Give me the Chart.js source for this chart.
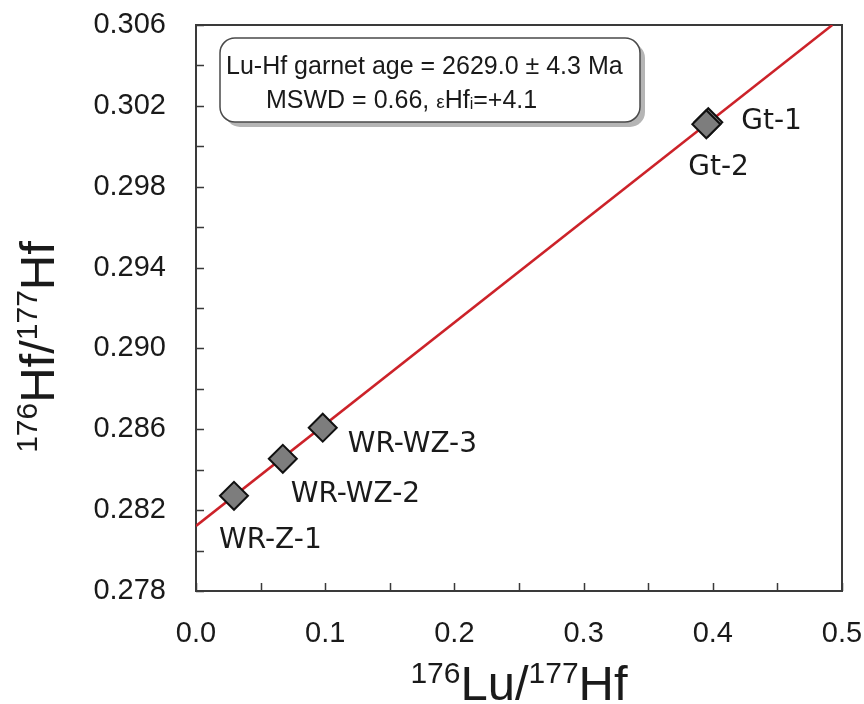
<!DOCTYPE html>
<html lang="en">
<head>
    <meta charset="UTF-8">
    <title>Lu-Hf isochron</title>
    <script src="https://cdn.jsdelivr.net/npm/chart.js"></script>
    <style>
        body { margin: 0; background: #fff; }
        .wrap { width: 864px; height: 704px; position: relative; }
    </style>
</head>
<body>
    <div class="wrap"><canvas id="isochron"></canvas></div>
    <script>
        // sample points
        const sampleNames = ['WR-Z-1', 'WR-WZ-2', 'WR-WZ-3', 'Gt-1', 'Gt-2'];
        const luHf = [0.0294, 0.0672, 0.0981, 0.3965, 0.3950];
        const hfHf = [0.28271, 0.28454, 0.28608, 0.30119, 0.30109];

        // isochron line end points
        const isochronLu = [0.0, 0.4925];
        const isochronHf = [0.28122, 0.306];

        const boxLine1 = 'Lu-Hf garnet age = 2629.0 \u00b1 4.3 Ma';
        const boxLine2 = ['MSWD = 0.66, ', '\u03b5', 'Hf', 'i', '=+4.1'];

        // label placement relative to each point (px)
        const labelOffsets = [[-15, 52], [8, 43], [25, 24], [33, 7], [-18, 51]];

        const axisColor = '#3a3a3a';

        function drawSupText(ctx, parts, x, y) {
            // parts: [text, size, rise]
            let cx = x;
            parts.forEach(p => {
                ctx.font = p[1] + 'px "Liberation Sans", Arial, sans-serif';
                ctx.fillText(p[0], cx, y - p[2]);
                cx += ctx.measureText(p[0]).width;
            });
            return cx - x;
        }

        function measureParts(ctx, parts) {
            let w = 0;
            parts.forEach(p => {
                ctx.font = p[1] + 'px "Liberation Sans", Arial, sans-serif';
                w += ctx.measureText(p[0]).width;
            });
            return w;
        }

        const decorPlugin = {
            id: 'decor',
            beforeDatasetsDraw(chart) {
                const ctx = chart.ctx;
                const a = chart.chartArea;
                const xs = chart.scales.x, ys = chart.scales.y;
                ctx.save();
                ctx.strokeStyle = axisColor;
                ctx.lineWidth = 2;
                ctx.strokeRect(a.left, a.top, a.right - a.left, a.bottom - a.top);
                ctx.lineWidth = 1.5;
                ctx.beginPath();
                ys.ticks.forEach(t => {
                    const py = Math.round(ys.getPixelForValue(t.value)) + 0.5;
                    ctx.moveTo(a.left, py);
                    ctx.lineTo(a.left + 8, py);
                });
                xs.ticks.forEach(t => {
                    const px = Math.round(xs.getPixelForValue(t.value)) + 0.5;
                    ctx.moveTo(px, a.bottom);
                    ctx.lineTo(px, a.bottom - 8);
                });
                ctx.stroke();
                ctx.restore();
            },
            afterDatasetsDraw(chart) {
                const ctx = chart.ctx;
                const xs = chart.scales.x, ys = chart.scales.y;
                ctx.save();
                ctx.fillStyle = '#1a1a1a';
                ctx.font = '28px "DejaVu Sans", Verdana, sans-serif';
                ctx.textBaseline = 'alphabetic';
                sampleNames.forEach((name, i) => {
                    const px = xs.getPixelForValue(luHf[i]);
                    const py = ys.getPixelForValue(hfHf[i]);
                    ctx.fillText(name, px + labelOffsets[i][0], py + labelOffsets[i][1]);
                });
                ctx.restore();
            },
            afterDraw(chart) {
                const ctx = chart.ctx;
                ctx.save();
                // annotation box with shadow
                ctx.fillStyle = '#b5b5b5';
                ctx.beginPath();
                ctx.roundRect(225, 43, 420, 84, 15);
                ctx.fill();
                ctx.fillStyle = '#fff';
                ctx.strokeStyle = '#4a4a4a';
                ctx.lineWidth = 1.5;
                ctx.beginPath();
                ctx.roundRect(220, 38, 420, 84, 15);
                ctx.fill();
                ctx.stroke();

                ctx.fillStyle = '#1a1a1a';
                ctx.textBaseline = 'alphabetic';
                ctx.font = '25px "Liberation Sans", Arial, sans-serif';
                ctx.fillText(boxLine1, 226, 74);
                drawSupText(ctx, [
                    [boxLine2[0], 25, 0], [boxLine2[1], 19, 0], [boxLine2[2], 25, 0],
                    [boxLine2[3], 16, -1], [boxLine2[4], 25, 0]
                ], 266, 108);

                // x axis title
                const xParts = [['176', 30, 17], ['Lu/', 49, 0], ['177', 30, 17], ['Hf', 49, 0]];
                const a = chart.chartArea;
                const xw = measureParts(ctx, xParts);
                drawSupText(ctx, xParts, (a.left + a.right) / 2 - xw / 2, 700);

                // y axis title
                const yParts = [['176', 30, 17], ['Hf/', 49, 0], ['177', 30, 17], ['Hf', 49, 0]];
                const yw = measureParts(ctx, yParts);
                ctx.translate(54, 347);
                ctx.rotate(-Math.PI / 2);
                drawSupText(ctx, yParts, -yw / 2, 0);
                ctx.restore();
            }
        };

        const ctx = document.getElementById('isochron').getContext('2d');
        new Chart(ctx, {
            type: 'scatter',
            data: {
                datasets: [
                    {
                        label: 'samples',
                        data: luHf.map((v, i) => ({ x: v, y: hfHf[i] })),
                        pointStyle: 'rectRot',
                        pointRadius: 14,
                        pointBackgroundColor: '#7d7d7d',
                        pointBorderColor: '#111',
                        pointBorderWidth: 2,
                        order: 0
                    },
                    {
                        label: 'isochron',
                        data: isochronLu.map((v, i) => ({ x: v, y: isochronHf[i] })),
                        showLine: true,
                        borderColor: '#cc2229',
                        borderWidth: 2.5,
                        pointRadius: 0,
                        order: 1
                    }
                ]
            },
            options: {
                responsive: true,
                maintainAspectRatio: false,
                animation: false,
                events: [],
                layout: { padding: { top: 25, right: 22, left: 0, bottom: 0 } },
                plugins: { legend: { display: false }, tooltip: { enabled: false } },
                scales: {
                    x: {
                        type: 'linear',
                        min: 0,
                        max: 0.5,
                        grid: { display: false },
                        border: { display: false },
                        ticks: {
                            stepSize: 0.05,
                            autoSkip: false,
                            maxRotation: 0,
                            padding: 18,
                            color: '#1a1a1a',
                            font: { family: '"Liberation Sans", Arial, sans-serif', size: 29 },
                            callback: v => (Math.round(v * 100) % 10 === 0 ? v.toFixed(1) : '')
                        },
                        afterFit: s => {
                            s.height = 113;
                            s.paddingLeft = 0;
                            s.paddingRight = 0;
                        }
                    },
                    y: {
                        type: 'linear',
                        min: 0.278,
                        max: 0.306,
                        grid: { display: false },
                        border: { display: false },
                        ticks: {
                            stepSize: 0.002,
                            autoSkip: false,
                            padding: 22,
                            color: '#1a1a1a',
                            font: { family: '"Liberation Sans", Arial, sans-serif', size: 29 },
                            callback: v => (Math.round(v * 1000) % 4 === 2 ? v.toFixed(3) : '')
                        },
                        afterFit: s => {
                            s.width = 196;
                            s.paddingTop = 0;
                            s.paddingBottom = 0;
                        }
                    }
                }
            },
            plugins: [decorPlugin]
        });
    </script>
</body>
</html>
